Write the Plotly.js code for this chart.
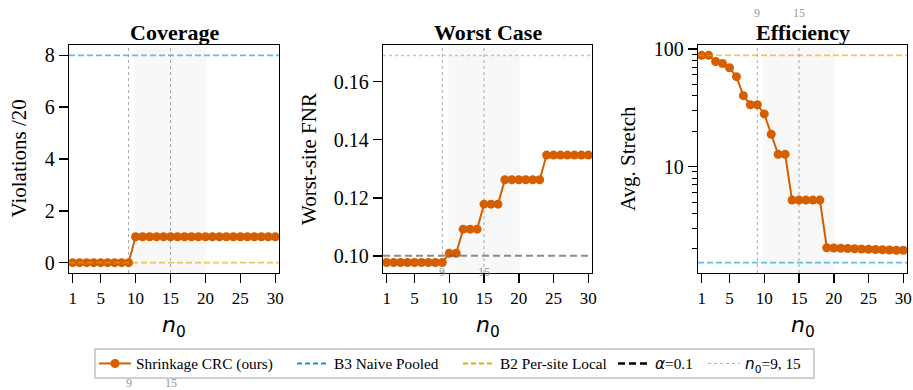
<!DOCTYPE html>
<html>
<head>
<meta charset="utf-8">
<script src="https://cdn.plot.ly/plotly-3.0.1.min.js"></script>
<style>html,body{margin:0;padding:0;background:#fff;}#chart{width:913px;height:390px;}</style>
</head>
<body>
<div id="chart"></div>
<script>
// ---- data ----
const n0 = [1,2,3,4,5,6,7,8,9,10,11,12,13,14,15,16,17,18,19,20,21,22,23,24,25,26,27,28,29,30];
const coverage = [0,0,0,0,0,0,0,0,0,1,1,1,1,1,1,1,1,1,1,1,1,1,1,1,1,1,1,1,1,1];
const worstFNR = [0.0977,0.0977,0.0977,0.0977,0.0977,0.0977,0.0977,0.0977,0.0977,
                  0.1009,0.1009,0.1092,0.1092,0.1092,0.1178,0.1178,0.1178,
                  0.1262,0.1262,0.1262,0.1262,0.1262,0.1262,
                  0.1347,0.1347,0.1347,0.1347,0.1347,0.1347,0.1347];
const stretch = [88,88,78,75,69,58,40,33.5,33.5,28,18.8,12.7,12.7,5.2,5.2,5.2,5.2,5.2,
                 2.05,2.04,2.03,2.02,2.01,2.0,1.99,1.98,1.97,1.96,1.95,1.95];
const covB3 = 8, covB2 = 0;
const worstB3 = 0.169, alphaLevel = 0.1;
const effB2 = 88, effB3 = 1.53;
const markN0 = [9, 15];
const shadeRange = [9.85, 20.15];
const xTicks = [1,5,10,15,20,25,30];
const titles = ['Coverage','Worst Case','Efficiency'];
const yLabels = ['Violations /20','Worst-site FNR','Avg. Stretch'];

// ---- styling ----
const W = 913, H = 390;
const px = v => v / W, py = v => 1 - v / H;
const ORANGE = '#D55E00';
const SERIF = 'Liberation Serif, Times New Roman, serif';
const SANS = 'DejaVu Sans, sans-serif';
const panels = [[69,279],[383,592],[698,907]];
const yTop = 45, yBot = 273;

function axisX(i){
  return {domain:[px(panels[i][0]), px(panels[i][1])], range:[0.47,30.53],
    tickvals:xTicks, ticks:'outside', ticklen:9, tickwidth:1.5, tickcolor:'#000',
    showline:true, mirror:true, linecolor:'#000', linewidth:1.3,
    showgrid:false, zeroline:false, anchor: i===0?'y':'y'+(i+1),
    tickfont:{family:SERIF,size:17,color:'#000'}};
}
function axisY(i){
  return {domain:[py(yBot), py(yTop)], ticks:'outside', ticklen:9, tickwidth:1.5, tickcolor:'#000',
    showline:true, mirror:true, linecolor:'#000', linewidth:1.3,
    showgrid:false, zeroline:false, anchor: i===0?'x':'x'+(i+1),
    tickfont:{family:SERIF,size:20,color:'#000'}};
}

const layout = {
  width:W, height:H, margin:{l:0,r:0,t:0,b:0},
  paper_bgcolor:'#fff', plot_bgcolor:'#fff', showlegend:true,
  xaxis:axisX(0), xaxis2:axisX(1), xaxis3:axisX(2),
  yaxis:Object.assign(axisY(0), {range:[-0.4,8.4], tickvals:[0,2,4,6,8]}),
  yaxis2:Object.assign(axisY(1), {range:[0.0941,0.1726], tickvals:[0.10,0.12,0.14,0.16], tickformat:'.2f'}),
  yaxis3:Object.assign(axisY(2), {type:'log', range:[0.097,2.032], tickvals:[10,100], ticktext:['10','100'],
     minor:{ticks:'outside', ticklen:4.5, tickwidth:1, tickcolor:'#000', showgrid:false,
       tickvals:[2,3,4,5,6,7,8,9,20,30,40,50,60,70,80,90]}}),
  shapes:[], annotations:[]
};

// shading + n0 marker lines in each panel
for (let i=0;i<3;i++){
  const xr = i===0?'x':'x'+(i+1);
  const yd = (i===0?'y':'y'+(i+1))+' domain';
  layout.shapes.push({type:'rect', xref:xr, yref:yd, x0:shadeRange[0], x1:shadeRange[1], y0:0, y1:1,
    fillcolor:'#f8f8f8', line:{width:0}, layer:'below'});
  markN0.forEach(v=>{
    layout.shapes.push({type:'line', xref:xr, yref:yd, x0:v, x1:v, y0:0, y1:1,
      line:{color:'#a8a8a8', width:1, dash:'dot'}, layer:'below'});
  });
}
function hline(i, y, color, dash, width){
  const xr = i===0?'x':'x'+(i+1), yr = i===0?'y':'y'+(i+1);
  layout.shapes.push({type:'line', xref:xr+' domain', yref:yr, x0:0, x1:1, y0:y, y1:y,
    line:{color:color, width:width||1.8, dash:dash}, layer:'above'});
}
hline(0, covB3, 'rgba(86,180,233,0.9)', '6px,3px');
hline(0, covB2, 'rgba(230,159,0,0.6)', '6px,3px');
hline(1, worstB3, 'rgba(86,180,233,0.6)', 'dot', 1.5);
hline(1, alphaLevel, 'rgba(100,100,100,0.75)', '7px,4px', 2);
hline(2, effB2, 'rgba(230,159,0,0.6)', '6px,3px');
hline(2, effB3, 'rgba(86,180,233,0.9)', '6px,3px');

// titles and axis labels
const centers = panels.map(p => (p[0]+p[1])/2);
const yLabelX = [18.5, 309, 628];
for (let i=0;i<3;i++){
  layout.annotations.push({text:'<b>'+titles[i]+'</b>', xref:'paper', yref:'paper', x:px(centers[i]), y:py(32.5),
    xanchor:'center', yanchor:'middle', showarrow:false, font:{family:SERIF,size:22,color:'#000'}});
  layout.annotations.push({text:yLabels[i], xref:'paper', yref:'paper', x:px(yLabelX[i]), y:py(159),
    xanchor:'center', yanchor:'middle', textangle:-90, showarrow:false, font:{family:SERIF,size:21,color:'#000'}});
  layout.annotations.push({text:'<i>n</i><sub>0</sub>', xref:'paper', yref:'paper', x:px(centers[i]), y:py(326),
    xanchor:'center', yanchor:'middle', showarrow:false, font:{family:SANS,size:22,color:'#000'}});
}
// small n0 marker labels (as placed in the reference)
const markY = [383, 272, 13];
for (let i=0;i<3;i++){
  markN0.forEach(v=>{
    layout.annotations.push({text:String(v), xref:i===0?'x':'x'+(i+1), yref:'paper', x:v, y:py(markY[i]),
      xanchor:'center', yanchor:'middle', showarrow:false, font:{family:SERIF,size:12,color:'#999'}});
  });
}

// legend frame
layout.shapes.push({type:'rect', xref:'paper', yref:'paper', x0:px(95), x1:px(814), y0:py(378), y1:py(349),
  line:{color:'#d0d0d0', width:2}, fillcolor:'rgba(255,255,255,0.9)', layer:'above'});

const legFont = {family:SERIF, size:15.3, color:'#000'};
const legX = [99, 297, 463, 618, 708];
const legNames = ['legend','legend2','legend3','legend4','legend5'];
legNames.forEach((k,j)=>{
  layout[k] = {x:px(legX[j]-5), y:py(363.5), xanchor:'left', yanchor:'middle', orientation:'h',
    bgcolor:'rgba(0,0,0,0)', borderwidth:0, font:legFont, itemwidth:32, tracegroupgap:0};
});

const mainStyle = {mode:'lines+markers', line:{color:ORANGE, width:2}, marker:{color:ORANGE, size:9}};
const traces = [
  Object.assign({x:n0, y:coverage, xaxis:'x', yaxis:'y', name:'Shrinkage CRC (ours)', legend:'legend', showlegend:true}, mainStyle),
  Object.assign({x:n0, y:worstFNR, xaxis:'x2', yaxis:'y2', showlegend:false}, mainStyle),
  Object.assign({x:n0, y:stretch, xaxis:'x3', yaxis:'y3', showlegend:false}, mainStyle),
  {x:[null], y:[null], mode:'lines', name:'B3 Naive Pooled', legend:'legend2', line:{color:'#1a8fd6', width:2, dash:'5px,3px'}},
  {x:[null], y:[null], mode:'lines', name:'B2 Per-site Local', legend:'legend3', line:{color:'#f0a800', width:2, dash:'5px,3px'}},
  {x:[null], y:[null], mode:'lines', name:'<span style="font-family:DejaVu Sans"><i>α</i></span>=0.1', legend:'legend4', line:{color:'#000', width:2.5, dash:'7px,4px'}},
  {x:[null], y:[null], mode:'lines', name:'<span style="font-family:DejaVu Sans"><i>n</i><sub>0</sub></span>=9, 15', legend:'legend5', line:{color:'#aaa', width:1, dash:'dot'}}
];

Plotly.newPlot('chart', traces, layout, {staticPlot:true, displayModeBar:false});
</script>
</body>
</html>
